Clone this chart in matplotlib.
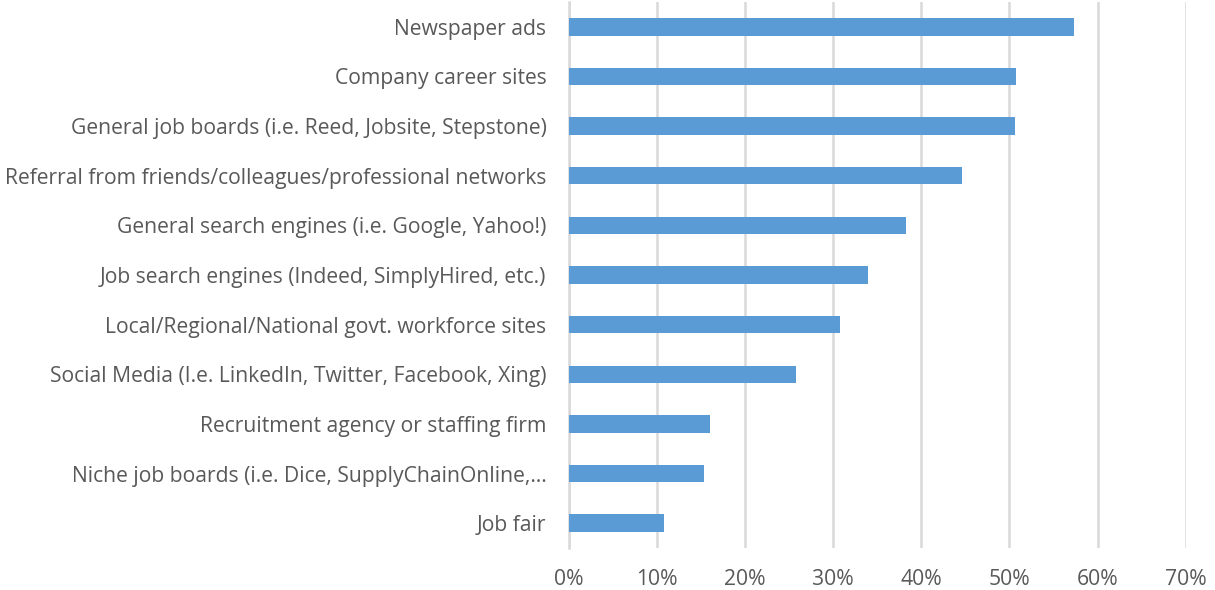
import matplotlib
matplotlib.use("Agg")
import matplotlib.pyplot as plt
from matplotlib.ticker import PercentFormatter

categories = [
    "Newspaper ads",
    "Company career sites",
    "General job boards (i.e. Reed, Jobsite, Stepstone)",
    "Referral from friends/colleagues/professional networks",
    "General search engines (i.e. Google, Yahoo!)",
    "Job search engines (Indeed, SimplyHired, etc.)",
    "Local/Regional/National govt. workforce sites",
    "Social Media (I.e. LinkedIn, Twitter, Facebook, Xing)",
    "Recruitment agency or staffing firm",
    "Niche job boards (i.e. Dice, SupplyChainOnline,\u2026",
    "Job fair",
]
values = [57.3, 50.7, 50.6, 44.6, 38.3, 34.0, 30.8, 25.8, 16.0, 15.4, 10.8]
x_ticks = [0, 10, 20, 30, 40, 50, 60, 70]

plt.rcParams["font.family"] = ["Open Sans", "DejaVu Sans"]

fig = plt.figure(figsize=(12.15, 5.9), dpi=100)
ax = fig.add_axes([0.468, 0.0712, 0.976 - 0.468, 0.9966 - 0.0712])

ypos = list(range(len(categories)))
ax.barh(ypos, values, height=0.35, color="#5b9bd5", zorder=3)

ax.set_ylim(len(categories) - 0.5, -0.5)
ax.set_xlim(0, 70)
ax.set_xticks(x_ticks)
ax.xaxis.set_major_formatter(PercentFormatter(decimals=0))
ax.set_yticks(ypos)
ax.set_yticklabels(categories)

ax.grid(axis="x", color="#d9d9d9", linewidth=1.8, zorder=0)
for s in ["top", "right", "bottom"]:
    ax.spines[s].set_visible(False)
ax.spines["left"].set_color("#d9d9d9")
ax.spines["left"].set_linewidth(1.8)
ax.spines["left"].set_zorder(1)

ax.tick_params(axis="both", length=0, labelsize=15.2, labelcolor="#595959")
ax.tick_params(axis="y", pad=16)
ax.tick_params(axis="x", pad=15)

fig.savefig("out.png", dpi=100)
